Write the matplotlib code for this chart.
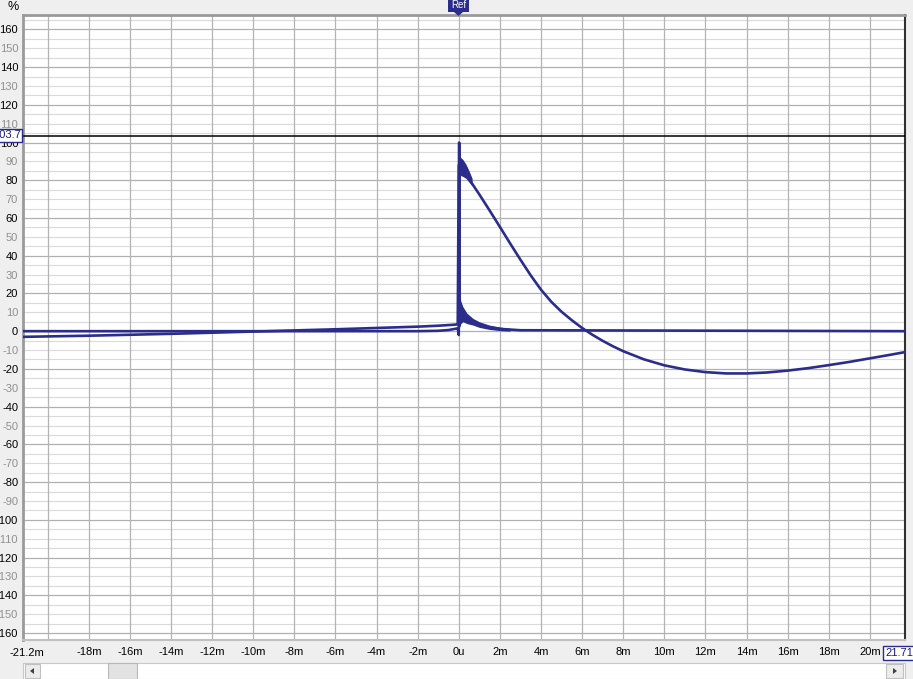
import matplotlib
matplotlib.use("Agg")
import matplotlib.pyplot as plt
from matplotlib.patches import Rectangle, Polygon

# ---------------- data ----------------
# step response, before the peak (ms, %)
step_t_pre = [-21.2, -18, -16, -14, -12, -10, -8, -6, -4, -2, -1, -0.4, -0.05]
step_v_pre = [-3.0, -2.4, -1.9, -1.4, -0.8, -0.2, 0.4, 1.0, 1.7, 2.4, 2.9, 3.3, 3.6]
# step response, after the peak
step_t_post = [0.0, 0.05, 0.3, 0.54, 1.0, 1.5, 2.0, 2.5, 3.0, 3.5, 4.0, 4.5, 5.0, 5.5,
               6.0, 6.5, 7.0, 7.5, 8.0, 9.0, 10.0, 11.0, 12.0, 13.0, 14.0, 15.0,
               16.0, 17.0, 18.0, 19.0, 20.0, 21.0, 21.71]
step_v_post = [88, 89, 86, 80, 72.5, 64, 55.3, 46.5, 37.9, 29.6, 22.0, 15.6, 10.3, 5.8,
               1.7, -1.9, -5.1, -8.0, -10.6, -14.9, -18.1, -20.3, -21.7, -22.4, -22.4, -21.9,
               -20.9, -19.6, -18.0, -16.3, -14.4, -12.5, -11.1]
# noisy band on the step response just after the peak
step_env_t = [0.02, 0.1, 0.2, 0.35, 0.5, 0.65]
step_env_hi = [93, 92, 91, 88.5, 85, 81]
step_env_lo = [82, 82.5, 82, 81, 79, 77]

# impulse response
imp_t = [-21.2, -2.0, -1.0, -0.5, -0.2, -0.05, 0.0, 0.02, 0.04, 0.08, 0.2, 0.4,
         0.7, 1.0, 1.5, 2.0, 3.0, 21.71]
imp_v = [0, 0, 0.2, 0.6, 1.2, 1.5, -2.0, 100, 3, 13, 9, 6.5, 4.8, 3.3, 2.0, 1.2, 0.5, 0]
imp_env_t = [0.04, 0.1, 0.2, 0.4, 0.7, 1.0, 1.5, 2.0, 2.5]
imp_env_hi = [19, 16, 13, 9.5, 6.7, 5, 3.2, 2.2, 1.5]
imp_env_lo = [2, 4, 5, 4, 3.2, 2, 0.9, 0.3, 0]

marker_level = 103.7
x_min, x_max = -21.2, 21.71
y_min, y_max = -163.7, 167.6
x_ticks = list(range(-18, 21, 2))
x_tick_labels = [("0u" if v == 0 else f"{v}m") for v in x_ticks]
y_ticks = list(range(-160, 161, 10))

# ---------------- figure ----------------
W, H = 913, 679
fig = plt.figure(figsize=(W / 100, H / 100), dpi=100)
fig.patch.set_facecolor("#efefef")
plt.rcParams["font.family"] = ["Liberation Sans", "DejaVu Sans"]

L, R, T, B = 23, 905, 15, 640
ax = fig.add_axes([L / W, 1 - B / H, (R - L) / W, (B - T) / H])
ax.set_facecolor("white")
ax.set_xlim(x_min, x_max)
ax.set_ylim(y_min, y_max)

line_col = "#2b2d8c"

# grid
for v in range(-165, 170, 5):
    if v % 20 == 0:
        ax.axhline(v, color="#b0b0b0", lw=0.9, zorder=0)
    else:
        ax.axhline(v, color="#dadada", lw=0.8, zorder=0)
for v in range(-20, 22, 2):
    ax.axvline(v, color="#b4b4b4", lw=0.9, zorder=0)

# marker line
ax.axhline(marker_level, color="black", lw=1.1, zorder=3)

# curves
ax.plot(imp_t, imp_v, color=line_col, lw=1.9, zorder=4, solid_joinstyle="round")
ax.fill_between(imp_env_t, imp_env_lo, imp_env_hi, color=line_col, lw=0, zorder=4)
ax.plot(step_t_pre + step_t_post, step_v_pre + step_v_post, color=line_col, lw=1.9,
        zorder=4, solid_joinstyle="round")
ax.fill_between(step_env_t, step_env_lo, step_env_hi, color=line_col, lw=0, zorder=4)

# ticks
ax.set_xticks(x_ticks)
ax.set_xticklabels(x_tick_labels, fontsize=8)
ax.set_yticks(y_ticks)
ax.set_yticklabels([str(v) for v in y_ticks], fontsize=8)
for lab, v in zip(ax.get_yticklabels(), y_ticks):
    lab.set_color("black" if v % 20 == 0 else "#909090")
ax.tick_params(axis="both", length=0)
ax.tick_params(axis="y", pad=3.5)
ax.tick_params(axis="x", pad=5)

# spines
for s in ("left", "top"):
    ax.spines[s].set_color("#9a9a9a")
    ax.spines[s].set_linewidth(2.0)
ax.spines["bottom"].set_color("#c0c0c0")
ax.spines["bottom"].set_linewidth(1.5)
ax.spines["right"].set_color("#303030")
ax.spines["right"].set_linewidth(1.5)

def fx(px):
    return px / W

def fy(py):
    return 1 - py / H

# % label
fig.text(fx(13), fy(7), "%", fontsize=9, ha="center", va="center")

# left end x label
fig.text(fx(27), fy(653), "-21.2m", fontsize=8, ha="center", va="center")

# right end x label box
fig.text(fx(885), fy(653), "21.71", fontsize=8, ha="left", va="center", color="#1a1a80",
         bbox=dict(boxstyle="square,pad=0.15", fc="white", ec="#2b2d8c", lw=1))

# marker value box on the left
fig.text(fx(21), fy(135.5), "103.7", fontsize=8, ha="right", va="center", color="#1a1a80",
         zorder=10,
         bbox=dict(boxstyle="square,pad=0.12", fc="white", ec="#2b2d8c", lw=1))

# Ref marker at top
fig.patches.append(Rectangle((fx(448), fy(12)), fx(21), 12 / H, transform=fig.transFigure,
                             fc=line_col, ec="none"))
fig.patches.append(Polygon([(fx(454), fy(12)), (fx(463), fy(12)), (fx(458.5), fy(16))],
                           closed=True, transform=fig.transFigure, fc=line_col, ec="none"))
fig.text(fx(458.5), fy(5.5), "Ref", fontsize=7, ha="center", va="center", color="white")

# scrollbar at the bottom
fig.patches.append(Rectangle((fx(23), fy(679)), fx(882), 16 / H, transform=fig.transFigure,
                             fc="white", ec="#c8c8c8", lw=0.8))
fig.patches.append(Rectangle((fx(25), fy(678)), fx(15), 14 / H, transform=fig.transFigure,
                             fc="#ececec", ec="#c0c0c0", lw=0.8))
fig.patches.append(Rectangle((fx(108), fy(679)), fx(29), 16 / H, transform=fig.transFigure,
                             fc="#e2e2e2", ec="#b8b8b8", lw=0.8))
fig.patches.append(Rectangle((fx(886), fy(678)), fx(17), 14 / H, transform=fig.transFigure,
                             fc="#ececec", ec="#c0c0c0", lw=0.8))
fig.patches.append(Polygon([(fx(30), fy(671)), (fx(34), fy(668)), (fx(34), fy(674))],
                           closed=True, transform=fig.transFigure, fc="#404040", ec="none"))
fig.patches.append(Polygon([(fx(897), fy(671)), (fx(893), fy(668)), (fx(893), fy(674))],
                           closed=True, transform=fig.transFigure, fc="#404040", ec="none"))

fig.savefig("out.png", dpi=100, facecolor=fig.get_facecolor())
